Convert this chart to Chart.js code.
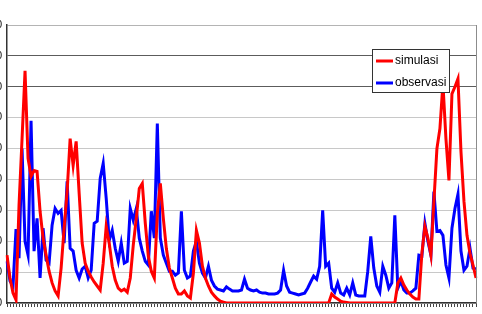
<!DOCTYPE html>
<html>
<head>
<meta charset="utf-8">
<script src="https://cdn.jsdelivr.net/npm/chart.js@4/dist/chart.umd.min.js"></script>
<style>
  html, body { margin: 0; padding: 0; background: #fff; overflow: hidden; }
  #wrap { position: absolute; left: -23px; top: 0; width: 505px; height: 314px; }
</style>
</head>
<body>
<div id="wrap"><canvas id="chart" width="505" height="314"></canvas></div>
<script>
const simulasi = [
  15.5, 8.1, 3.2, 1.0, 31.6, 53, 75.2, 46.8, 41, 42.9,
  42.6, 29.7, 21, 15.5, 10.3, 6.5, 3.9, 2.3, 11.3, 24.2,
  36.1, 53.2, 44.5, 52.3, 35.5, 19.4, 12.9, 10.3, 8.4, 6.8,
  5.5, 4.2, 12.9, 24.8, 19.4, 11.9, 7.4, 4.8, 3.9, 4.5,
  3.5, 8.1, 18.7, 27.4, 37.1, 38.7, 25.8, 15.2, 10.3, 8.1,
  29, 38.7, 27.4, 17.7, 11.3, 8.1, 4.8, 2.9, 2.9, 3.9,
  2.3, 1.6, 9.7, 23.5, 19.4, 11.9, 8.1, 5.5, 3.5, 2.3,
  1.3, 0.6, 0.3,
  0, 0, 0, 0, 0, 0, 0, 0, 0, 0, 0, 0, 0, 0, 0, 0, 0, 0,
  0, 0, 0, 0, 0, 0, 0, 0, 0, 0, 0, 0, 0, 0, 0, 0, 0,
  2.9, 1.9, 1.3, 0.6, 0.3, 0.2,
  0, 0, 0, 0, 0, 0, 0, 0, 0, 0, 0, 0, 0, 0, 0, 0,
  6.5, 8.1, 5.8, 4.2, 2.9, 1.9, 1.3, 1.3, 16.1, 24.8,
  21, 15.5, 32.9, 50, 56.5, 71, 53.2, 39.7, 67.7, 70,
  72.6, 49, 32.9, 21.9, 16.1, 12.3, 8.1
];

const observasi = [
  13.5, 7.1, 5.5, 23.9, 14.5, 50, 20, 15.5, 59, 16.8,
  27.4, 8.1, 24.2, 13.9, 12.9, 25.2, 30.6, 29, 30, 19.4,
  39.4, 17.7, 16.8, 10.6, 8.1, 11, 11.9, 8.1, 10.6, 25.8,
  26.5, 40.3, 45.2, 33.9, 20.3, 23.5, 17.7, 13.5, 19.4, 12.9,
  13.5, 30.6, 26.8, 30.6, 21, 16.8, 13.5, 12.3, 29.7, 21,
  58.1, 21, 15.5, 12.9, 10.3, 10.3, 9, 9.7, 29.7, 10.6,
  8.1, 8.7, 16.8, 20, 12.9, 9.7, 8.1, 11.9, 7.4, 5.5,
  4.5, 4.2, 3.9, 5.2, 4.5, 3.9, 3.9, 3.9, 4.2, 7.7,
  4.8, 4.2, 3.9, 4.2, 3.5, 3.2, 3.2, 2.9, 2.9, 2.9,
  3.2, 4.2, 10.6, 5.5, 3.5, 3.2, 2.9, 2.6, 2.9, 3.2,
  4.8, 6.8, 8.7, 7.7, 11.9, 30, 11.9, 12.9, 4.8, 3.5,
  6.5, 3.2, 2.6, 4.8, 2.6, 6.5, 2.6, 2.3, 2.3, 2.3,
  10.3, 21.6, 11.3, 5.5, 3.5, 11.9, 9, 4.8, 6.5, 28.4,
  4.8, 7.1, 4.2, 3.2, 3.2, 3.9, 4.8, 15.5, 15.2, 25.8,
  20, 15.5, 36.1, 23.2, 23.5, 21.9, 12.3, 8.1, 24.2, 30.6,
  35.2, 16.8, 10.6, 11.9, 17.7, 11.3, 11
];

// one category per time step (x labels are not shown in the picture)
const steps = Array.from({ length: simulasi.length }, (_, i) => String(i + 1));

const yMax = 90;
const yStep = 10;

// legend box drawn inside the plot, top right
const boxLegend = {
    id: 'boxLegend',
    afterDraw(chart) {
        const ctx = chart.ctx;
        const area = chart.chartArea;
        const x = area.right - 104;
        const y = area.top + 24;
        const w = 77, h = 43;

        ctx.save();
        // right border of the plot
        ctx.strokeStyle = '#8c8c8c';
        ctx.lineWidth = 1;
        ctx.beginPath();
        ctx.moveTo(Math.round(area.right) + 0.5, area.top);
        ctx.lineTo(Math.round(area.right) + 0.5, area.bottom);
        ctx.stroke();

        ctx.fillStyle = '#fff';
        ctx.fillRect(x, y, w, h);
        ctx.strokeStyle = '#333';
        ctx.strokeRect(Math.round(x) + 0.5, Math.round(y) + 0.5, w, h);

        ctx.font = '12px "Liberation Sans", Arial, sans-serif';
        ctx.textBaseline = 'middle';
        chart.data.datasets.forEach((ds, i) => {
            const ly = y + 12 + i * 22;
            ctx.strokeStyle = ds.borderColor;
            ctx.lineWidth = 3;
            ctx.beginPath();
            ctx.moveTo(x + 4, ly);
            ctx.lineTo(x + 21, ly);
            ctx.stroke();
            ctx.fillStyle = '#000';
            ctx.fillText(ds.label, x + 23, ly);
        });
        ctx.restore();
    }
};

new Chart(document.getElementById('chart'), {
    type: 'line',
    data: {
        labels: steps,
        datasets: [{
            label: 'simulasi',
            data: simulasi,
            borderColor: '#ff0000',
            borderWidth: 3,
            pointRadius: 0,
            tension: 0,
            fill: false
        }, {
            label: 'observasi',
            data: observasi,
            borderColor: '#0000ff',
            borderWidth: 3,
            pointRadius: 0,
            tension: 0,
            fill: false
        }]
    },
    options: {
        responsive: false,
        animation: false,
        devicePixelRatio: 1,
        layout: { padding: { left: 0, right: 6, top: 25, bottom: 0 } },
        plugins: {
            legend: { display: false },
            tooltip: { enabled: false }
        },
        scales: {
            x: {
                offset: false,
                afterFit: s => { s.height = 9; },
                ticks: { display: false },
                grid: {
                    drawOnChartArea: false,
                    drawTicks: true,
                    tickLength: 4,
                    color: '#444'
                },
                border: { display: true, color: '#333', width: 1.5 }
            },
            y: {
                min: 0,
                max: yMax,
                afterFit: s => { s.width = 30; },
                ticks: {
                    stepSize: yStep,
                    padding: 5,
                    color: '#000',
                    font: { family: '"Liberation Sans", Arial, sans-serif', size: 10 }
                },
                grid: {
                    drawTicks: false,
                    color: c => {
                        const v = c.tick ? c.tick.value : 0;
                        if (v === 70 || v === 80) return '#5c5c5c';
                        if (v === yMax) return '#b4b4b4';
                        return '#c8c8c8';
                    }
                },
                border: { display: true, color: '#333', width: 1.5 }
            }
        }
    },
    plugins: [boxLegend]
});
</script>
</body>
</html>
